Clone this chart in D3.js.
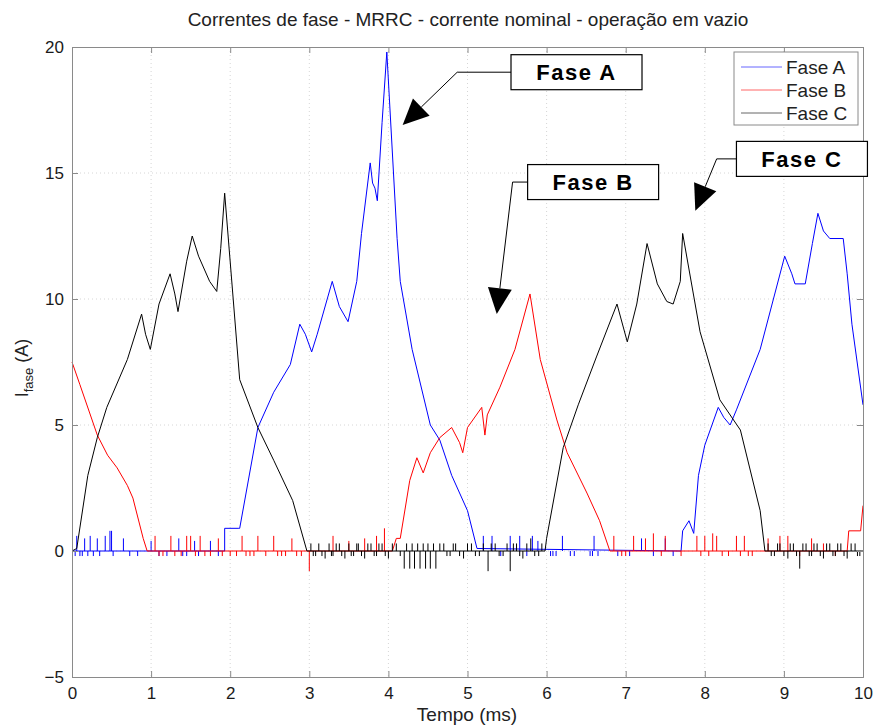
<!DOCTYPE html>
<html>
<head>
<meta charset="UTF-8">
<title>Correntes de fase</title>
<script src="https://cdn.jsdelivr.net/npm/d3@7"></script>
<style>
  body { margin: 0; background: #fff; }
  text { font-family: "Liberation Sans", Arial, sans-serif; }
</style>
</head>
<body>
<div id="chart"></div>
<script>
// ---- data: [tempo (ms), corrente (A)] ----
var phaseA = [[0,0],[1.93,0],[1.93,0.9],[2.1,0.9],[2.12,0.9],[2.35,4.9],[2.55,6.3],[2.76,7.4],[2.88,9.0],[2.95,8.6],
  [3.03,7.9],[3.1,8.6],[3.29,10.7],[3.38,9.7],[3.49,9.1],[3.6,10.7],[3.66,12.6],[3.77,15.4],[3.8,14.6],[3.83,14.4],
  [3.86,13.9],[3.92,17.0],[3.98,19.8],[4.11,12.4],[4.15,10.7],[4.3,8.0],[4.53,5.0],[4.65,4.4],[4.8,3.0],[5.0,1.6],
  [5.12,0.1],[7.7,0],[7.72,0.8],[7.8,1.2],[7.86,0.7],[7.92,3.0],[8.0,4.2],[8.17,5.7],[8.24,5.3],[8.32,5.0],[8.4,5.6],
  [8.7,8.0],[9.01,11.7],[9.1,11.0],[9.14,10.6],[9.27,10.6],[9.36,12.2],[9.43,13.4],[9.5,12.7],[9.58,12.4],[9.75,12.4],
  [9.8,11.0],[9.86,9.0],[10,5.8]];
var phaseB = [[0,7.5],[0.1,6.6],[0.32,4.6],[0.45,3.8],[0.57,3.3],[0.7,2.6],[0.77,2.1],[0.9,0.5],[0.95,0],[4.05,0],
  [4.1,0.5],[4.15,0.5],[4.27,2.8],[4.36,3.7],[4.44,3.1],[4.53,3.9],[4.65,4.5],[4.8,4.9],[4.9,4.3],[4.94,3.9],[5.0,4.9],
  [5.18,5.7],[5.22,4.6],[5.25,5.4],[5.41,6.5],[5.6,8.0],[5.79,10.2],[5.92,7.6],[6.13,5.2],[6.26,3.9],[6.51,2.3],
  [6.67,1.2],[6.8,0],[9.8,0],[9.82,0.8],[9.97,0.8],[10,1.8]];
var phaseC = [[0,0],[0.06,0.1],[0.2,3.0],[0.32,4.5],[0.44,5.7],[0.7,7.6],[0.88,9.4],[0.93,8.6],[0.99,8.0],[1.1,9.8],
  [1.24,11.0],[1.3,10.2],[1.34,9.5],[1.45,11.5],[1.52,12.5],[1.6,11.7],[1.74,10.7],[1.83,10.3],[1.88,12.0],[1.93,14.2],
  [2.12,6.8],[2.35,4.9],[2.55,3.6],[2.79,2.0],[2.97,0],[5.98,0],[6.0,0.5],[6.21,4.1],[6.4,5.8],[6.63,7.7],[6.89,9.8],
  [7.02,8.3],[7.14,9.8],[7.27,12.2],[7.4,10.6],[7.52,9.9],[7.6,9.8],[7.69,10.7],[7.72,12.6],[7.94,8.7],[8.19,6.0],
  [8.45,4.8],[8.7,1.6],[8.76,0],[10,0]];

// switching spikes around zero: [tempo, pico]
var spikesA = [[0.04,-0.2],[0.06,0.6],[0.1,-0.2],[0.13,-0.2],[0.16,0.5],[0.2,-0.2],[0.23,0.6],[0.27,-0.2],[0.32,0.5],
  [0.35,-0.2],[0.42,0.6],[0.48,0.8],[0.5,0.8],[0.52,-0.2],[0.65,0.5],[0.73,-0.2],[0.83,-0.2],[1.0,0.4],[1.1,-0.2],
  [1.2,-0.2],[1.35,0.5],[1.4,-0.2],[1.45,-0.2],[1.55,0.4],[1.6,-0.2],[1.75,0.4],[1.85,-0.2],[5.2,0.6],[5.31,0.6],
  [5.42,-0.2],[5.54,0.6],[5.66,0.6],[5.75,-0.2],[5.82,0.6],[5.89,0.4],[6.05,-0.2],[6.08,-0.2],[6.12,-0.2],[6.2,0.6],
  [6.3,-0.2],[6.35,-0.2],[6.55,-0.2],[6.58,-0.2],[6.6,0.6],[6.65,-0.2],[6.9,-0.2],[7.05,-0.2],[7.2,0.5],[7.35,-0.2],
  [7.5,0.5],[7.6,-0.2]];
var spikesB = [[1.05,0.6],[1.1,-0.2],[1.15,-0.2],[1.25,0.6],[1.3,-0.2],[1.38,-0.2],[1.45,0.6],[1.5,0.6],[1.56,-0.2],
  [1.62,0.6],[1.68,-0.2],[1.75,-0.2],[1.85,0.5],[1.9,-0.2],[2.0,-0.2],[2.08,-0.2],[2.15,0.6],[2.2,-0.2],[2.25,-0.2],
  [2.3,-0.2],[2.35,0.6],[2.45,-0.2],[2.55,0.6],[2.6,-0.2],[2.65,-0.2],[2.7,-0.2],[2.78,0.5],[2.84,-0.2],[2.9,-0.2],
  [3.0,-0.8],[3.3,0.6],[3.5,0.4],[3.7,0.5],[3.85,0.6],[3.95,0.9],[6.85,0.6],[6.95,-0.2],[7.0,-0.2],[7.1,0.6],
  [7.25,0.5],[7.35,0.7],[7.45,-0.2],[7.5,0.6],[7.7,-0.2],[7.9,0.6],[7.95,-0.2],[8.0,0.6],[8.05,-0.2],[8.1,0.7],
  [8.15,0.6],[8.22,-0.2],[8.3,-0.2],[8.4,0.6],[8.45,-0.2],[8.5,0.6],[8.55,-0.2],[8.6,-0.2],[8.8,0.5],[8.95,0.6],
  [9.05,0.6],[9.2,-0.2],[9.35,0.5],[9.5,0.3],[9.65,-0.2]];
var spikesC = [[3.02,0.3],[3.05,-0.2],[3.08,-0.2],[3.12,0.3],[3.16,-0.2],[3.2,-0.3],[3.25,0.3],[3.28,-0.2],[3.3,-0.2],
  [3.34,0.3],[3.38,0.3],[3.41,-0.2],[3.45,-0.3],[3.5,0.3],[3.53,-0.2],[3.56,-0.2],[3.6,0.3],[3.62,0.3],[3.66,-0.2],
  [3.7,-0.3],[3.74,0.3],[3.78,0.3],[3.82,-0.2],[3.85,-0.2],[3.88,0.3],[3.92,0.3],[3.96,-0.2],[4.0,-0.3],[4.05,0.3],
  [4.1,0.3],[4.15,-0.2],[4.2,-0.7],[4.23,0.3],[4.27,-0.7],[4.3,0.3],[4.33,-0.7],[4.37,0.3],[4.4,-0.7],[4.44,0.3],
  [4.47,-0.7],[4.5,0.3],[4.53,-0.7],[4.57,0.3],[4.6,-0.7],[4.65,0.3],[4.7,0.3],[4.74,-0.2],[4.78,-0.2],[4.82,0.3],
  [4.85,0.3],[4.9,-0.2],[4.95,-0.3],[5.0,0.3],[5.05,0.3],[5.1,-0.2],[5.15,-0.2],[5.2,0.3],[5.26,-0.8],[5.3,0.3],
  [5.35,0.3],[5.4,-0.2],[5.45,-0.2],[5.5,0.3],[5.54,-0.8],[5.58,0.3],[5.62,0.3],[5.66,-0.2],[5.7,-0.3],[5.75,0.3],
  [5.8,0.5],[5.85,-0.2],[5.9,-0.2],[5.94,0.3],[8.8,0.3],[8.84,-0.2],[8.88,-0.2],[8.92,0.3],[8.95,0.3],[9.0,-0.2],
  [9.05,-0.3],[9.08,0.3],[9.12,0.3],[9.16,-0.2],[9.2,-0.7],[9.24,0.3],[9.28,0.3],[9.32,-0.2],[9.35,-0.2],[9.38,0.3],
  [9.42,0.3],[9.46,-0.2],[9.5,-0.3],[9.54,0.3],[9.58,0.3],[9.62,-0.2],[9.65,-0.2],[9.68,0.3],[9.72,0.3],[9.76,-0.2],
  [9.8,-0.3],[9.85,0.3],[9.9,0.3],[9.93,-0.2],[9.96,-0.2]];

var seriesNames = ["Fase A", "Fase B", "Fase C"];
var seriesColors = ["#0000ff", "#ff0000", "#000000"];
var xTicks = [0,1,2,3,4,5,6,7,8,9,10];
var yTicks = [-5,0,5,10,15,20];

// callouts: label, box left (ms), elbow and arrow tip (ms, A)
var callouts = [
  {label: "Fase A", bx: 5.55, elbow: [4.87, 19.0], tip: [4.18, 16.9]},
  {label: "Fase B", bx: 5.76, elbow: [5.57, 14.64], tip: [5.37, 9.4]},
  {label: "Fase C", bx: 8.4, elbow: [8.15, 15.56], tip: [7.88, 13.5]}
];

var W = 877, H = 726;
var L = 72, R = 863, T = 47, B = 677;

var svg = d3.select("#chart").append("svg")
    .attr("width", W)
    .attr("height", H);

var x = d3.scaleLinear().domain([0, 10]).range([L, R]);
var y = d3.scaleLinear().domain([-5, 20]).range([B, T]);

// dotted grid
svg.append("g").selectAll("line").data(xTicks.slice(1, -1)).enter().append("line")
    .attr("x1", d => x(d)).attr("x2", d => x(d)).attr("y1", T).attr("y2", B)
    .attr("stroke", "#d6d6d6").attr("stroke-dasharray", "1,3");
svg.append("g").selectAll("line").data(yTicks.slice(1, -1)).enter().append("line")
    .attr("x1", L).attr("x2", R).attr("y1", d => y(d)).attr("y2", d => y(d))
    .attr("stroke", "#d6d6d6").attr("stroke-dasharray", "1,3");

var plot = svg.append("g");
var line = d3.line().x(d => x(d[0])).y(d => y(d[1]));
var allSeries = [phaseA, phaseB, phaseC];
var allSpikes = [spikesA, spikesB, spikesC];

allSeries.forEach(function (s, k) {
    plot.append("g").selectAll("line").data(allSpikes[k]).enter().append("line")
        .attr("x1", d => x(d[0])).attr("x2", d => x(d[0]))
        .attr("y1", y(0)).attr("y2", d => y(d[1]))
        .attr("stroke", seriesColors[k]).attr("stroke-width", 1);
    plot.append("path").datum(s)
        .attr("d", line)
        .attr("fill", "none")
        .attr("stroke", seriesColors[k])
        .attr("stroke-width", 1);
});

// axes (MATLAB style box with inward ticks)
var axisColor = "#8a8a8a";
var gx = svg.append("g").attr("transform", "translate(0," + B + ")")
    .call(d3.axisBottom(x).tickValues(xTicks).tickSize(-6).tickPadding(10));
var gxt = svg.append("g").attr("transform", "translate(0," + T + ")")
    .call(d3.axisTop(x).tickValues(xTicks).tickSize(-6).tickFormat(""));
var gy = svg.append("g").attr("transform", "translate(" + L + ",0)")
    .call(d3.axisLeft(y).tickValues(yTicks).tickSize(-6).tickPadding(8));
var gyr = svg.append("g").attr("transform", "translate(" + R + ",0)")
    .call(d3.axisRight(y).tickValues(yTicks).tickSize(-6).tickFormat(""));
[gx, gxt, gy, gyr].forEach(function (g) {
    g.selectAll("path").attr("stroke", axisColor);
    g.selectAll("line").attr("stroke", axisColor);
    g.selectAll("text").attr("fill", "#1a1a1a").style("font-size", "17px")
        .style("font-family", "'Liberation Sans', Arial, sans-serif");
});

// titles
svg.append("text").attr("x", 468).attr("y", 26).attr("text-anchor", "middle")
    .style("font-size", "19px").attr("fill", "#222")
    .text("Correntes de fase - MRRC - corrente nominal - operação em vazio");
svg.append("text").attr("x", 467).attr("y", 721).attr("text-anchor", "middle")
    .style("font-size", "19px").attr("fill", "#222").text("Tempo (ms)");
var yl = svg.append("text").attr("transform", "translate(28,368) rotate(-90)")
    .attr("text-anchor", "middle").style("font-size", "18px").attr("fill", "#222");
yl.append("tspan").text("I");
yl.append("tspan").attr("dy", 5).style("font-size", "13px").text("fase");
yl.append("tspan").attr("dy", -5).text(" (A)");

// legend
var lg = svg.append("g").attr("transform", "translate(734,52)");
lg.append("rect").attr("width", 124).attr("height", 73)
    .attr("fill", "#fff").attr("stroke", "#8a8a8a");
seriesNames.forEach(function (n, k) {
    lg.append("line").attr("x1", 7).attr("x2", 48)
        .attr("y1", 15 + k * 23).attr("y2", 15 + k * 23)
        .attr("stroke", seriesColors[k]).attr("stroke-opacity", 0.6);
    lg.append("text").attr("x", 52).attr("y", 22 + k * 23)
        .style("font-size", "19px").attr("fill", "#222").text(n);
});

// callouts with arrows
var boxW = 131, boxH = 35;
callouts.forEach(function (c) {
    var bx = x(c.bx);
    var ex = x(c.elbow[0]), ey = y(c.elbow[1]);
    var by = ey - boxH / 2;
    var tx = x(c.tip[0]), ty = y(c.tip[1]);
    var ang = Math.atan2(ty - ey, tx - ex);
    var len = 26, half = 12;
    var baseX = tx - len * Math.cos(ang), baseY = ty - len * Math.sin(ang);
    svg.append("polyline")
        .attr("points", [[bx, ey], [ex, ey], [baseX, baseY]].join(" "))
        .attr("fill", "none").attr("stroke", "#000").attr("stroke-width", 1);
    var p1 = [baseX + half * Math.sin(ang), baseY - half * Math.cos(ang)];
    var p2 = [baseX - half * Math.sin(ang), baseY + half * Math.cos(ang)];
    svg.append("polygon").attr("points", [[tx, ty], p1, p2].join(" ")).attr("fill", "#000");
    svg.append("rect").attr("x", bx).attr("y", by).attr("width", boxW).attr("height", boxH)
        .attr("fill", "#fff").attr("stroke", "#000").attr("stroke-width", 1.2);
    svg.append("text").attr("x", bx + boxW / 2).attr("y", by + boxH / 2 + 8)
        .attr("text-anchor", "middle").style("font-size", "22px").style("font-weight", "bold")
        .style("letter-spacing", "1.5px").attr("fill", "#000").text(c.label);
});
</script>
</body>
</html>
